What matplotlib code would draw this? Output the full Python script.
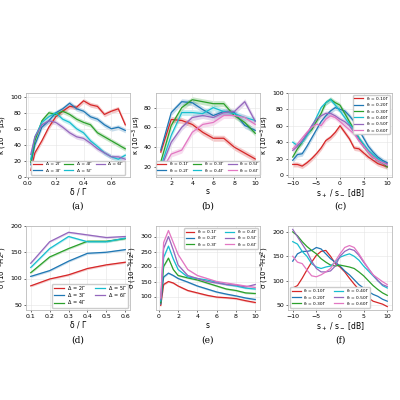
import numpy as np
import matplotlib.pyplot as plt

cols = ['#d62728', '#1f77b4', '#2ca02c', '#17becf', '#9467bd', '#e377c2']

# (a)
x_a = [0.02, 0.05, 0.1, 0.15, 0.2, 0.25, 0.3, 0.35, 0.4, 0.45, 0.5, 0.55, 0.6, 0.65, 0.7]
lab_a = ['Δ = 2Γ', 'Δ = 3Γ', 'Δ = 4Γ', 'Δ = 5Γ', 'Δ = 6Γ']
y_a = [[8, 30, 45, 62, 75, 82, 88, 87, 95, 90, 88, 78, 82, 85, 65],
       [15, 40, 62, 70, 80, 85, 92, 85, 82, 75, 72, 65, 60, 62, 58],
       [18, 45, 70, 80, 78, 82, 78, 72, 68, 65, 55, 50, 45, 40, 35],
       [22, 50, 68, 75, 80, 72, 68, 60, 55, 45, 38, 30, 25, 22, 27],
       [28, 50, 65, 70, 68, 62, 55, 50, 48, 42, 35, 30, 25, 25, 22]]
# (b)
x_b = [1, 2, 3, 4, 5, 6, 7, 8, 9, 10]
lab_b = ['δ = 0.1Γ', 'δ = 0.2Γ', 'δ = 0.3Γ', 'δ = 0.4Γ', 'δ = 0.5Γ', 'δ = 0.6Γ']
y_b = [[35, 68, 67, 63, 55, 49, 49, 40, 34, 28],
       [37, 75, 86, 85, 78, 72, 76, 75, 62, 57],
       [25, 62, 80, 88, 86, 84, 84, 72, 65, 54],
       [20, 52, 75, 75, 74, 80, 76, 74, 70, 67],
       [18, 45, 60, 70, 72, 70, 75, 76, 86, 66],
       [15, 33, 37, 55, 63, 65, 72, 72, 70, 63]]
# (c)
x_c = list(range(-10, 11))
lab_c = ['δ = 0.10Γ', 'δ = 0.20Γ', 'δ = 0.30Γ', 'δ = 0.40Γ', 'δ = 0.50Γ', 'δ = 0.60Γ']
y_c = [[13, 13, 11, 15, 20, 26, 33, 42, 46, 52, 60, 52, 44, 33, 32, 27, 22, 18, 14, 12, 10],
       [18, 25, 26, 35, 45, 55, 65, 72, 78, 82, 80, 78, 72, 65, 55, 45, 35, 28, 22, 18, 15],
       [22, 32, 40, 50, 55, 65, 75, 88, 92, 88, 85, 75, 65, 55, 45, 35, 28, 22, 18, 15, 10],
       [40, 36, 40, 48, 58, 70, 82, 88, 92, 85, 78, 70, 62, 55, 45, 38, 30, 25, 20, 16, 12],
       [30, 35, 42, 50, 60, 68, 72, 75, 75, 72, 68, 65, 60, 52, 42, 35, 28, 22, 18, 15, 14],
       [32, 38, 45, 52, 58, 62, 60, 68, 72, 70, 65, 60, 55, 50, 42, 35, 28, 22, 18, 15, 12]]
# (d)
x_d = [0.1, 0.2, 0.3, 0.4, 0.5, 0.6]
y_d = [[86, 99, 107, 119, 126, 131],
       [104, 115, 133, 148, 150, 155],
       [111, 141, 157, 171, 171, 176],
       [121, 157, 180, 170, 170, 177],
       [129, 170, 188, 183, 178, 180]]
# (e)
x_e = [0.2, 0.5, 1, 1.5, 2, 3, 4, 5, 6, 7, 8, 9, 10]
y_e = [[70, 140, 150, 145, 135, 120, 112, 104, 98, 96, 93, 86, 80],
       [75, 165, 178, 170, 160, 148, 135, 125, 115, 108, 102, 95, 90],
       [80, 200, 228, 190, 170, 162, 155, 145, 135, 125, 120, 112, 110],
       [85, 230, 268, 225, 190, 165, 160, 155, 148, 140, 135, 128, 125],
       [90, 260, 300, 255, 205, 170, 160, 150, 145, 140, 138, 132, 140],
       [95, 280, 320, 280, 240, 190, 170, 160, 150, 145, 140, 135, 130]]
# (f)
y_f = [[85, 90, 105, 122, 138, 152, 160, 162, 150, 135, 128, 118, 105, 93, 82, 70, 65, 58, 55, 52, 47],
       [140, 155, 160, 160, 162, 168, 165, 155, 145, 138, 130, 120, 112, 102, 92, 85, 78, 72, 68, 62, 58],
       [200, 192, 180, 170, 162, 155, 145, 138, 132, 130, 132, 130, 128, 125, 118, 110, 100, 90, 82, 75, 70],
       [180, 175, 160, 150, 135, 128, 125, 128, 130, 138, 148, 152, 155, 150, 142, 130, 120, 110, 100, 90, 85],
       [205, 190, 175, 160, 140, 125, 118, 118, 120, 130, 150, 160, 165, 162, 152, 138, 125, 112, 100, 92, 88],
       [150, 138, 135, 122, 110, 108, 112, 118, 125, 140, 155, 168, 172, 168, 155, 140, 125, 112, 105, 98, 92]]

plt.rcParams['font.size'] = 4.5
fig = plt.figure(figsize=(4, 4), dpi=100)
W, H = 0.26, 0.21
lefts = [0.065, 0.39, 0.72]
bottoms = [0.558, 0.225]
axs = [[fig.add_axes([l, b, W, H]) for l in lefts] for b in bottoms]


def draw(ax, x, ys, labels, band, lw=0.9):
    for i, y in enumerate(ys):
        y = np.array(y, float)
        ax.plot(x, y, color=cols[i], lw=lw, label=labels[i])
        if band:
            ax.fill_between(x, y - band, y + band, color=cols[i], alpha=0.25, lw=0)


def style(ax, xl, yl, tag):
    ax.grid(True, color='#e5e5e5', lw=0.4)
    for s in ax.spines.values():
        s.set_color('#bbbbbb')
        s.set_linewidth(0.6)
    ax.tick_params(length=1.5, width=0.4, pad=1.5, labelsize=4.5)
    ax.set_xlabel(xl, fontsize=5.5, labelpad=1)
    ax.set_ylabel(yl, fontsize=5, labelpad=1)
    ax.text(0.5, -0.3, tag, transform=ax.transAxes, ha='center', va='top', fontsize=6.5, family='serif')


ax = axs[0][0]
draw(ax, x_a, y_a, lab_a, 3)
ax.set_ylim(0, 105)
ax.legend(ncol=3, fontsize=3.2, loc='lower center', handlelength=2, columnspacing=1.0, framealpha=1)
style(ax, 'δ / Γ', 'κ (10$^{-3}$ μs)', '(a)')

ax = axs[0][1]
draw(ax, x_b, y_b, lab_b, 3)
ax.set_ylim(10, 95)
ax.set_xticks([2, 4, 6, 8, 10])
ax.legend(ncol=3, fontsize=3.2, loc='lower center', handlelength=2, columnspacing=1.0, framealpha=1)
style(ax, 's', 'κ (10$^{-3}$ μs)', '(b)')

ax = axs[0][2]
draw(ax, x_c, y_c, lab_c, 3)
ax.set_ylim(-2, 100)
ax.legend(fontsize=3.2, loc='upper right', handlelength=2, framealpha=1)
style(ax, 's$_+$ / s$_-$ [dB]', 'κ (10$^{-3}$ μs)', '(c)')

ax = axs[1][0]
draw(ax, x_d, y_d, lab_a, 2)
ax.set_ylim(40, 200)
ax.set_xticks(x_d)
ax.legend(ncol=2, fontsize=3.6, loc='lower right', handlelength=2, framealpha=1)
style(ax, 'δ / Γ', 'σ (10$^{-3}$Hz$^2$)', '(d)')

ax = axs[1][1]
draw(ax, x_e, y_e, lab_b, 3)
ax.set_ylim(55, 335)
ax.set_xticks([0, 2, 4, 6, 8, 10])
ax.legend(ncol=2, fontsize=3.2, loc='upper right', handlelength=2, framealpha=1)
style(ax, 's', 'σ (10$^{-3}$Hz$^2$)', '(e)')

ax = axs[1][2]
draw(ax, x_c, y_f, lab_c, 0)
ax.set_ylim(40, 212)
ax.legend(ncol=2, fontsize=3.2, loc='lower left', handlelength=2, framealpha=1)
style(ax, 's$_+$ / s$_-$ [dB]', 'σ (10$^{-3}$Hz$^2$)', '(f)')

fig.savefig('out.png', dpi=100)
